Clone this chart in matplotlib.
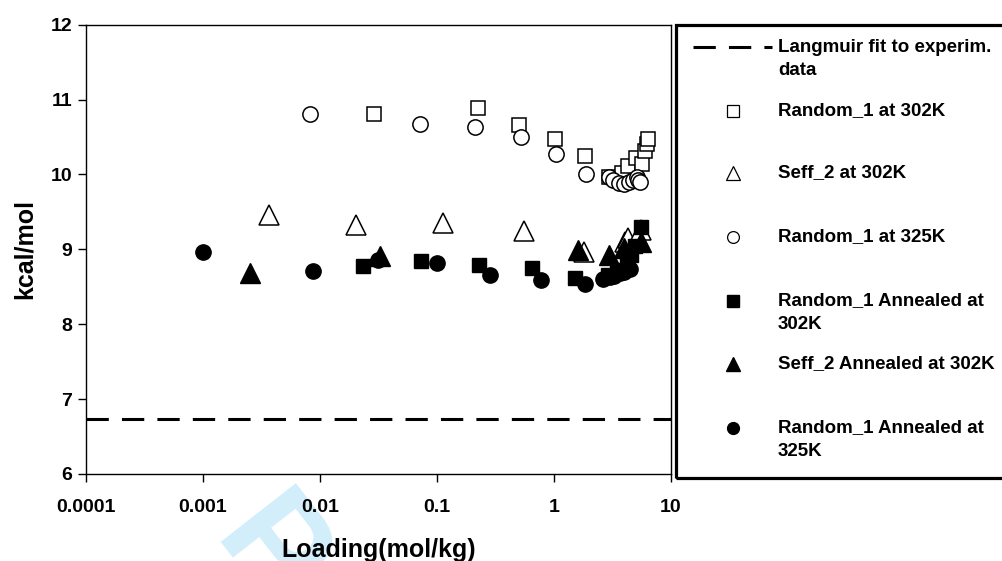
import matplotlib
matplotlib.use("Agg")
import matplotlib.pyplot as plt
from matplotlib.patches import Rectangle
from matplotlib.lines import Line2D

plt.rcParams['font.family'] = ['Liberation Sans', 'DejaVu Sans']
plt.rcParams['font.weight'] = 'bold'

# values (loading in mol/kg, energy in kcal/mol)
langmuir_y = 6.73

rand1_302_x = [0.029, 0.224, 0.508, 1.03, 1.85, 2.98, 3.85, 4.33, 5.07, 5.70, 6.05, 6.30, 6.40]
rand1_302_y = [10.81, 10.885, 10.66, 10.475, 10.245, 9.96, 10.02, 10.11, 10.22, 10.14, 10.31, 10.41, 10.47]

seff2_302_x = [0.00367, 0.0203, 0.114, 0.555, 1.82, 4.08, 4.3, 5.6]
seff2_302_y = [9.454, 9.33, 9.35, 9.25, 8.97, 9.10, 9.15, 9.26]

rand1_325_x = [0.0082, 0.072, 0.211, 0.525, 1.04, 1.89, 2.95, 3.2, 3.6, 4.0, 4.4, 4.8, 5.1, 5.3, 5.5]
rand1_325_y = [10.81, 10.67, 10.63, 10.50, 10.27, 10.0, 9.97, 9.92, 9.88, 9.87, 9.90, 9.93, 9.97, 9.92, 9.90]

rand1_ann302_x = [0.0232, 0.0735, 0.230, 0.653, 1.52, 2.9, 3.5, 4.2, 4.6, 5.0, 5.6]
rand1_ann302_y = [8.78, 8.85, 8.79, 8.75, 8.62, 8.66, 8.72, 8.80, 8.93, 9.05, 9.30]

seff2_ann302_x = [0.00253, 0.0324, 1.62, 2.98, 4.0, 5.56]
seff2_ann302_y = [8.68, 8.91, 8.99, 8.92, 9.02, 9.10]

rand1_ann325_x = [0.001, 0.0088, 0.0316, 0.1, 0.284, 0.78, 1.85, 2.65, 3.0, 3.3, 3.7, 4.0, 4.5]
rand1_ann325_y = [8.96, 8.71, 8.86, 8.82, 8.66, 8.59, 8.54, 8.61, 8.63, 8.65, 8.68, 8.70, 8.74]

x_ticks = [0.0001, 0.001, 0.01, 0.1, 1, 10]
x_labels = ['0.0001', '0.001', '0.01', '0.1', '1', '10']
y_ticks = [6, 7, 8, 9, 10, 11, 12]

labels = ['Langmuir fit to experim.\ndata', 'Random_1 at 302K', 'Seff_2 at 302K',
          'Random_1 at 325K', 'Random_1 Annealed at\n302K', 'Seff_2 Annealed at 302K',
          'Random_1 Annealed at\n325K']

W, H = 1003, 561
fig = plt.figure(figsize=(W / 100, H / 100), dpi=100)
ax = fig.add_axes([86 / W, 1 - 474 / H, (670.7 - 86) / W, (474 - 24.7) / H])
ax.patch.set_alpha(0)

dash = (7.3, 4.3)
ax.axhline(langmuir_y, color='black', lw=2.2, dashes=dash, zorder=2)

open_kw = dict(ls='none', mfc='white', mec='black', mew=1.1)
fill_kw = dict(ls='none', color='black')
series = [
    (rand1_302_x, rand1_302_y, 's', 10.5, open_kw),
    (seff2_302_x, seff2_302_y, '^', 14, open_kw),
    (rand1_325_x, rand1_325_y, 'o', 11, open_kw),
    (rand1_ann302_x, rand1_ann302_y, 's', 10.5, fill_kw),
    (seff2_ann302_x, seff2_ann302_y, '^', 14, fill_kw),
    (rand1_ann325_x, rand1_ann325_y, 'o', 11, fill_kw),
]
for i, (xs, ys, m, ms, kw) in enumerate(series):
    ax.plot(xs, ys, marker=m, ms=ms, zorder=3 + i, clip_on=False, **kw)

ax.set_xscale('log')
ax.set_xlim(0.0001, 10)
ax.set_ylim(6, 12)
ax.set_xticks(x_ticks)
ax.set_xticklabels(x_labels)
ax.set_yticks(y_ticks)
ax.minorticks_off()
ax.tick_params(direction='out', length=6, width=1, labelsize=14, pad=12)
ax.tick_params(axis='y', pad=4)
for s in ax.spines.values():
    s.set_linewidth(1)
ax.set_xlabel('Loading(mol/kg)', fontsize=18, fontweight='bold', labelpad=16)
ax.set_ylabel('kcal/mol', fontsize=18, fontweight='bold', labelpad=10)

# faint watermark letter behind everything
fig.text(267 / W, 1 - 556 / H, 'P', color='#d2eefb', fontsize=100, fontweight='bold',
         rotation=-52, ha='center', va='center', zorder=-1)

# legend box at the right
fig.patches.append(Rectangle((676.5 / W, 1 - 478 / H), 0.4, (478 - 25) / H,
                             transform=fig.transFigure, fill=False, lw=2.3,
                             edgecolor='black', clip_on=False))

def fx(px):
    return px / W

def fy(py):
    return 1 - py / H

fig.add_artist(Line2D([fx(693), fx(772)], [fy(47), fy(47)], color='black', lw=2.2,
                      dashes=dash, transform=fig.transFigure))
leg_rows = [111, 173, 237, 301, 364, 428]
leg_style = [('s', 8.5, open_kw), ('^', 10, open_kw), ('o', 8.5, open_kw),
             ('s', 8.5, fill_kw), ('^', 10, fill_kw), ('o', 8.5, fill_kw)]
for py, (m, ms, kw) in zip(leg_rows, leg_style):
    kw2 = dict(kw)
    if 'mew' in kw2:
        kw2['mew'] = 0.9
    fig.add_artist(Line2D([fx(733)], [fy(py)], marker=m, ms=ms,
                          transform=fig.transFigure, **kw2))

for py, lab in zip([47] + leg_rows, labels):
    for k, line in enumerate(lab.split('\n')):
        fig.text(fx(778), fy(py + 23.5 * k), line, fontsize=13.5, fontweight='bold',
                 ha='left', va='center')

fig.savefig('out.png', dpi=100)
